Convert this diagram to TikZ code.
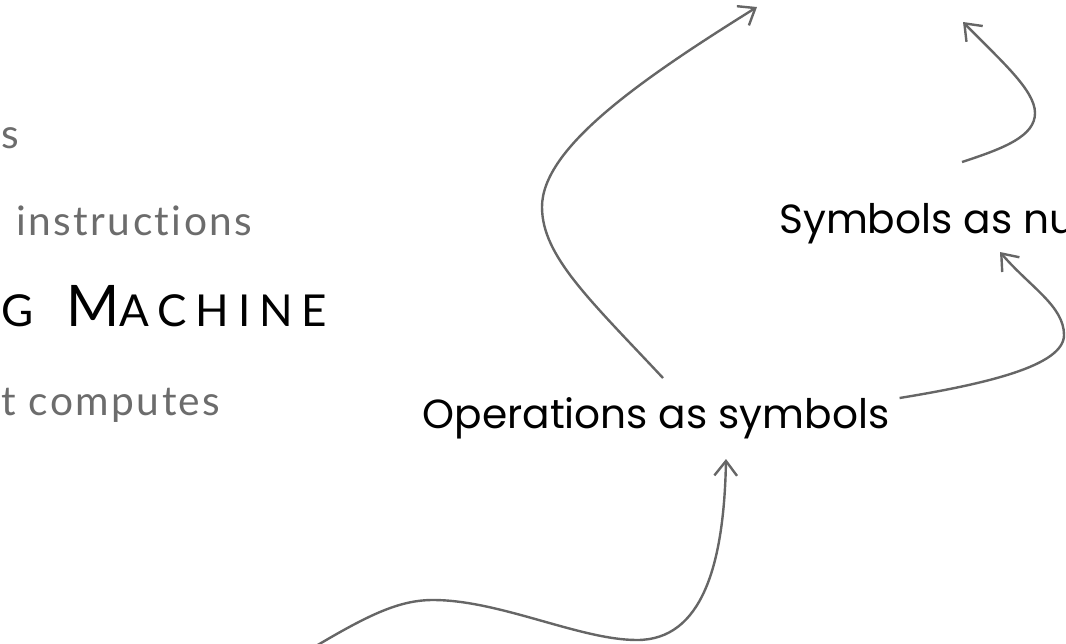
\documentclass[tikz,border=0pt]{standalone}
\usepackage{fontspec}
\setmainfont{Poppins}
\newfontfamily\notefont[LetterSpace=6,Ligatures=NoCommon]{Lato}
\newfontfamily\titlefont[LetterSpace=20]{Lato}
\usetikzlibrary{calc,arrows.meta}

\definecolor{linegray}{RGB}{102,102,102}
\definecolor{notegray}{RGB}{108,108,108}

\tikzset{
  flow/.style={draw=linegray, line width=1.8pt, -{Straight Barb[length=11pt,width=17pt]}},
  note/.style={inner sep=0.75pt, text=notegray, font=\notefont\fontsize{30.5pt}{36pt}\selectfont},
  label/.style={inner sep=0.75pt, text=black, font=\fontsize{30.5pt}{36pt}\selectfont},
}

\begin{document}
\begin{tikzpicture}[x=0.75pt,y=0.75pt,yscale=-1,xscale=1]
\useasboundingbox (0,0) rectangle (1066,643);

% Text Node
\node [note, anchor=base west] (tailS) at (0,148) {s};
% Text Node
\node [note, anchor=base west] (instr) at (15,235) {instructions};
% Text Node
\node [anchor=base west, inner sep=0.75pt] (title) at (0,326) {\titlefont\fontsize{33pt}{38pt}\selectfont G\hspace{0.75em}{\fontsize{43pt}{50pt}\selectfont M}ACHINE};
% Text Node
\node [note, anchor=base west] (comp) at (0,415) {t computes};

% Text Node
\node [label, anchor=base] (ops) at (656,428) {Operations as symbols};
% Text Node
\node [label, anchor=base west] (sym) at (778,233) {Symbols as nu};

% free ends
\coordinate (below) at (316,646);
\coordinate (upLeft) at (757,7);
\coordinate (upRight) at (963,22);

%Curve Lines
\draw [flow] (below) .. controls (370,614) and (400,600) .. (433,600) .. controls (500,600) and (580,640) .. (637,640) .. controls (702,640) and (724,565) .. ($(ops.base)+(70,31)$);
%Curve Lines
\draw [flow] ($(ops.base)+(7,-50)$) .. controls (590,300) and (542,256) .. (542,207) .. controls (542,148) and (640,80) .. (upLeft);
%Curve Lines
\draw [flow] ($(ops.base east)+(9,-30)$) .. controls (985,384) and (1064,366) .. (1064,335) .. controls (1064,306) and (1030,287) .. ($(sym.base west)+(222,19)$);
%Curve Lines
\draw [flow] ($(sym.base west)+(184,-71)$) .. controls (1005,148) and (1035,136) .. (1035,113) .. controls (1035,90) and (1000,60) .. (upRight);

\end{tikzpicture}
\end{document}
